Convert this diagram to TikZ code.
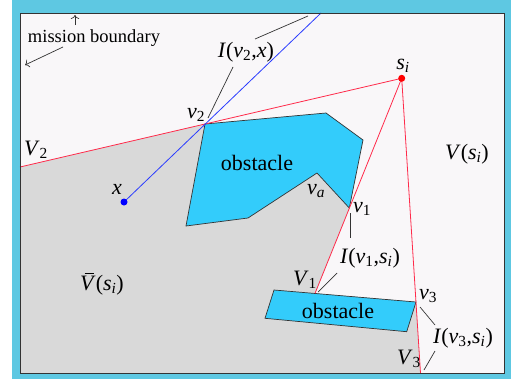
\documentclass[tikz,border=0pt]{standalone}
\usepackage{fontspec}
\setmainfont{Liberation Serif}
\usetikzlibrary{arrows.meta}
\definecolor{frame}{HTML}{5EC8E2}
\definecolor{paper}{HTML}{F9F7F9}
\definecolor{hidden}{HTML}{D9D9D9}
\definecolor{cyanfill}{HTML}{33CCFB}
\definecolor{ink}{HTML}{333333}
\definecolor{rayred}{HTML}{FF2A4A}
\definecolor{rayblue}{HTML}{2A3CFF}
\newcommand{\ivar}[2]{\textit{#1}\textsubscript{#2}}
\newcommand{\barV}{\makebox[0pt][l]{\hspace{0.2em}\raisebox{0.74em}{\rule{0.42em}{0.05em}}}\textit{V}}

\begin{document}
\begin{tikzpicture}[x=1pt,y=-1pt,
    ray/.style={draw=rayred, line width=0.8pt},
    sight/.style={draw=rayblue, line width=0.8pt},
    leader/.style={draw=ink, line width=0.7pt},
    obst/.style={fill=cyanfill, draw=ink, line width=0.7pt},
    dot/.style={circle, inner sep=0pt, minimum size=7pt},
    lab/.style={font=\fontsize{22}{24}\selectfont, text=black, inner sep=0pt}]
  \useasboundingbox (0,0) rectangle (511,380);
  % frame and mission area
  \fill[frame] (12,0) rectangle (511,379);
  \fill[paper] (20,13) rectangle (504,373);
  % key points
  \coordinate (si) at (401.7,78.3);
  \coordinate (v2) at (205,124);
  \coordinate (v1) at (349.3,208);
  \coordinate (va) at (317,173);
  \coordinate (v3) at (416,302);
  \coordinate (V1) at (315,293.4);
  \coordinate (V2) at (20,167);
  \coordinate (V3) at (420.5,373);
  \coordinate (x) at (124,202);
  \coordinate (xb) at (321,13);
  % invisible region
  \fill[hidden] (V2) -- (v2) -- (186,226) -- (248,218) -- (va) -- (v1) -- (V1)
    -- (v3) -- (V3) -- (20,373) -- cycle;
  % obstacles
  \draw[obst] (v2) -- (326,113) -- (363,140) -- (v1) -- (va) -- (248,218) -- (186,226) -- cycle;
  \draw[obst] (274,290) -- (v3) -- (406.7,331.7) -- (265,318.3) -- cycle;
  % rays
  \draw[ray] (si) -- (V2);
  \draw[ray] (si) -- (V1);
  \draw[ray] (si) -- (V3);
  \draw[sight] (x) -- (xb);
  \draw[ink, line width=1pt] (20,13) rectangle (504,373);
  \node[dot, fill=red] (sidot) at (si) {};
  \node[dot, fill=blue] (xdot) at (x) {};
  % labels
  \foreach \nm/\px/\py/\txt in {
     lob1/257/163/{obstacle},
     lob2/338/311/{obstacle},
     lsi/403/66/{\ivar{s}{\textit{i}}},
     lv2/196/115/{\ivar{v}{2}},
     lV2/36/150/{\ivar{V}{2}},
     lx/117/189/{\textit{x}},
     lva/316/191/{\ivar{v}{\textit{a}}},
     lv1/362/209/{\ivar{v}{1}},
     lV1/305/280/{\ivar{V}{1}},
     lv3/428/296/{\ivar{v}{3}},
     lV3/409/359/{\ivar{V}{3}},
     lIv2/246/52/{\textit{I}(\ivar{v}{2},\textit{x})},
     lIv1/370/258/{\textit{I}(\ivar{v}{1},\ivar{s}{\textit{i}})},
     lIv3/463/338/{\textit{I}(\ivar{v}{3},\ivar{s}{\textit{i}})},
     lVs/467/154/{\textit{V}(\ivar{s}{\textit{i}})},
     lVb/102/284/{\barV(\ivar{s}{\textit{i}})}}
  {
    \node[lab] (\nm) at (\px,\py) {\txt};
  }
  \node[lab, font=\fontsize{18.5}{20}\selectfont] (mb) at (94,38) {mission boundary};
  % leaders
  \foreach \i/\a/\b in {
     1/{255,39}/{308,16},
     2/{233,67}/{208,118},
     3/{350,213}/{350,238},
     4/{337,273}/{318,292},
     5/{420,307}/{435,325},
     6/{435,351}/{424,370}}
  {
    \coordinate (la\i) at (\a);
    \coordinate (lb\i) at (\b);
    \draw[leader] (la\i) -- (lb\i);
  }
  \coordinate (mbup) at (75,15);
  \coordinate (mbfoot) at (75,25);
  \coordinate (mbleft) at (25,65);
  \coordinate (mbtail) at (63,47);
  \draw[leader, -{To[length=4pt]}] (mbfoot) -- (mbup);
  \draw[leader, -{To[length=4pt]}] (mbtail) -- (mbleft);
\end{tikzpicture}
\end{document}
